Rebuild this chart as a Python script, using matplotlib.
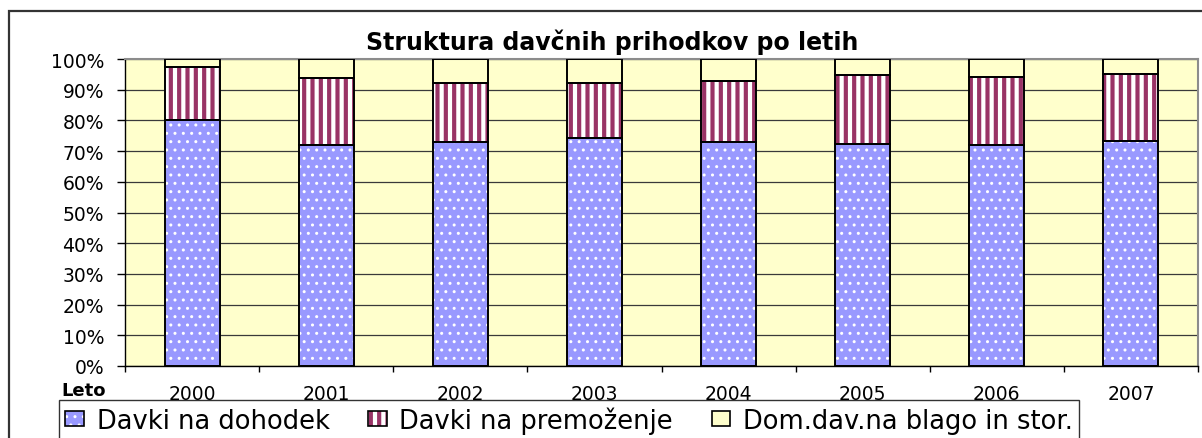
import numpy as np
import matplotlib as mpl
import matplotlib.pyplot as plt
from matplotlib.patches import Patch, Rectangle

plt.rcParams['font.family'] = ['DejaVu Sans']

# podatki (odčitani s slike, v %)
leta = ['2000', '2001', '2002', '2003', '2004', '2005', '2006', '2007']
dohodek = [80.2, 72.0, 73.0, 74.4, 72.9, 72.4, 72.0, 73.3]
premozenje = [17.3, 21.7, 19.3, 17.9, 19.8, 22.4, 22.2, 21.9]
blago = [2.5, 6.3, 7.7, 7.7, 7.3, 5.2, 5.8, 4.8]
imena = ['Davki na dohodek', 'Davki na premoženje', 'Dom.dav.na blago in stor.']

# slog serij: (barva ozadja, barva vzorca, vzorec, debelina vzorca)
slogi = [
    ('#9999FF', 'white', '..', 1.0),
    ('white', '#993366', '||', 3.0),
    ('#FFFFCC', '#FFFFCC', None, 1.0),
]

W, H = 1202, 439
fig = plt.figure(figsize=(W / 100, H / 100), dpi=100)
ax = fig.add_axes([125 / W, 1 - 367 / H, (1198 - 125) / W, (367 - 60) / H])
ax.set_facecolor('#FFFFCC')

x = np.arange(len(leta))
sirina = 0.41
spodaj = np.zeros(len(leta))
rocke = []
for vrednosti, (fc, hc, vz, hlw) in zip([dohodek, premozenje, blago], slogi):
    with mpl.rc_context({'hatch.linewidth': hlw}):
        bars = ax.bar(x, vrednosti, sirina, bottom=spodaj, color=fc,
                      edgecolor=hc, hatch=vz, linewidth=0, zorder=2)
        for b in bars:
            if hasattr(b, 'set_hatch_linewidth'):
                b.set_hatch_linewidth(hlw)
        ax.bar(x, vrednosti, sirina, bottom=spodaj, fill=False,
               edgecolor='black', linewidth=1.4, zorder=3)
        h1 = Patch(facecolor=fc, edgecolor=hc, hatch=vz, linewidth=0)
    h2 = Patch(fill=False, edgecolor='black', linewidth=1.2)
    rocke.append((h1, h2))
    spodaj = spodaj + np.array(vrednosti)

ax.set_xlim(-0.5, len(leta) - 0.5)
ax.set_ylim(0, 100)
ax.set_yticks(np.arange(0, 101, 10))
ax.set_yticklabels([f'{v}%' for v in range(0, 101, 10)], fontsize=13.5)
ax.set_xticks(x)
ax.set_xticklabels(leta, fontsize=13.5)
ax.set_xticks(np.arange(-0.5, len(leta), 1), minor=True)
ax.tick_params(axis='x', which='major', length=0, pad=13)
ax.tick_params(axis='x', which='minor', length=4, width=1, direction='out')
ax.tick_params(axis='y', length=6, width=1, pad=9)

ax.yaxis.grid(True, color='#3a3a3a', linewidth=0.9)
ax.set_axisbelow(True)
for s in ['left', 'bottom']:
    ax.spines[s].set_color('black')
    ax.spines[s].set_linewidth(1.0)
for s in ['top', 'right']:
    ax.spines[s].set_color('#8c8c8c')
    ax.spines[s].set_linewidth(1.5)

fig.text(612 / W, 1 - 42 / H, 'Struktura davčnih prihodkov po letih',
         fontsize=17, fontweight='bold', ha='center', va='center')
fig.text(84 / W, 1 - 391 / H, 'Leto', fontsize=13, fontweight='bold',
         ha='center', va='center')

leg = fig.legend(rocke, imena, loc='center', bbox_to_anchor=(569 / W, 1 - 421 / H),
                 ncol=3, fontsize=18.5, frameon=True, fancybox=False,
                 handlelength=0.72, handleheight=0.55, handletextpad=0.5,
                 columnspacing=1.5, borderpad=0.25, borderaxespad=0)
leg.get_frame().set_edgecolor('black')
leg.get_frame().set_linewidth(1.0)
# vzorec v legendi
for p in leg.findobj(Patch):
    if p.get_hatch() == '||':
        p.set_edgecolor('#993366')
        p.set_linewidth(0)
        if hasattr(p, 'set_hatch_linewidth'):
            p.set_hatch_linewidth(3.0)

# zunanji okvir grafikona
fig.add_artist(Rectangle((9 / W, -0.1), 1.2, 1 - 12 / H + 0.1, fill=False,
                         edgecolor='#333333', linewidth=1.6,
                         transform=fig.transFigure))

plt.savefig('out.png', dpi=100)
